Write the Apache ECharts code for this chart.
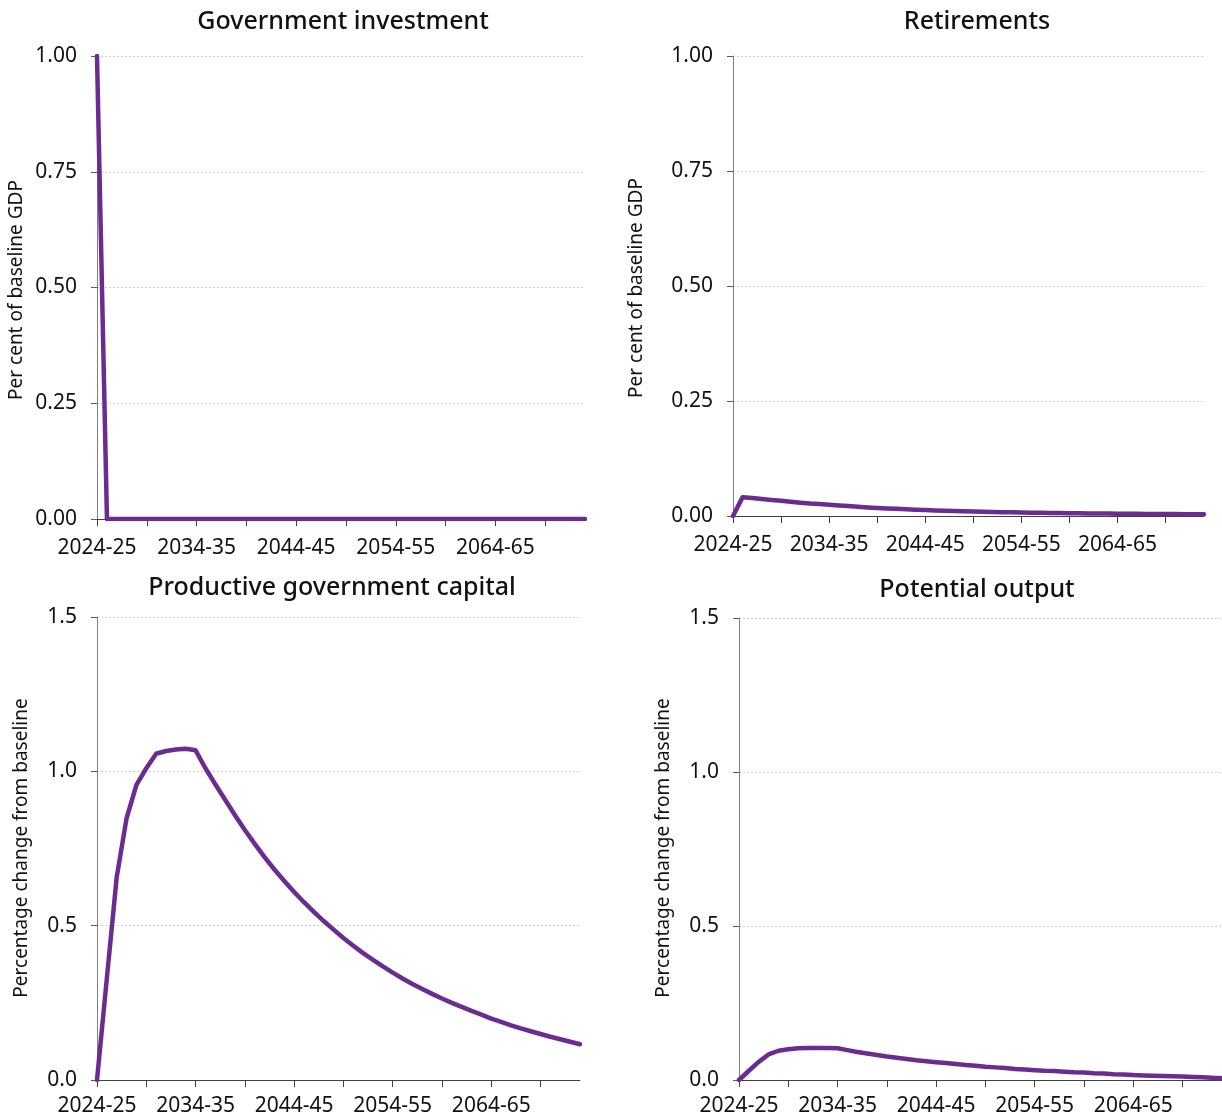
<!DOCTYPE html>
<html>
<head>
<meta charset="utf-8">
<script src="https://cdn.jsdelivr.net/npm/echarts@6/dist/echarts.min.js"></script>
<style>
html,body{margin:0;padding:0;background:#fff;}
#chart{width:1222px;height:1119px;}
</style>
</head>
<body>
<div id="chart"></div>
<script>
// Categories: fiscal years 2024-25 .. 2073-74
const years = [];
for (let y = 2024; y <= 2073; y++) years.push(y + '-' + String((y + 1) % 100).padStart(2, '0'));

const govInvestment = [1.00, 0, 0, 0, 0, 0, 0, 0, 0, 0, 0, 0, 0, 0, 0, 0, 0, 0, 0, 0, 0, 0, 0, 0, 0,
  0, 0, 0, 0, 0, 0, 0, 0, 0, 0, 0, 0, 0, 0, 0, 0, 0, 0, 0, 0, 0, 0, 0, 0, 0];

const retirements = [0, 0.041, 0.039, 0.037, 0.035, 0.033, 0.031, 0.029, 0.027, 0.026,
  0.0245, 0.023, 0.0215, 0.020, 0.0187, 0.0175, 0.0165, 0.0155, 0.0145, 0.0137,
  0.013, 0.0122, 0.0115, 0.0108, 0.0102, 0.0097, 0.0092, 0.0087, 0.0083, 0.0079,
  0.0075, 0.0072, 0.0069, 0.0066, 0.0063, 0.006, 0.0058, 0.0056, 0.0054, 0.0052,
  0.005, 0.0048, 0.0047, 0.0045, 0.0044, 0.0042, 0.0041, 0.004, 0.0039, 0.0037];

const govCapital = [0, 0.33, 0.657, 0.848, 0.956, 1.01, 1.057, 1.066, 1.071, 1.073,
  1.068, 1.010, 0.958, 0.908, 0.858, 0.810, 0.765, 0.722, 0.682, 0.645,
  0.609, 0.576, 0.545, 0.515, 0.487, 0.460, 0.435, 0.411, 0.389, 0.368,
  0.348, 0.329, 0.311, 0.295, 0.279, 0.264, 0.250, 0.237, 0.224, 0.212,
  0.199, 0.188, 0.177, 0.167, 0.158, 0.149, 0.140, 0.132, 0.124, 0.116];

const potentialOutput = [0, 0.030, 0.059, 0.083, 0.095, 0.100, 0.103, 0.104, 0.104, 0.104,
  0.103, 0.097, 0.091, 0.086, 0.081, 0.076, 0.072, 0.068, 0.064, 0.061,
  0.058, 0.055, 0.052, 0.049, 0.046, 0.043, 0.041, 0.039, 0.036, 0.034,
  0.032, 0.030, 0.029, 0.027, 0.025, 0.024, 0.022, 0.021, 0.019, 0.018,
  0.016, 0.015, 0.014, 0.013, 0.012, 0.011, 0.010, 0.009, 0.007, 0.006];

const titles = ['Government investment', 'Retirements', 'Productive government capital', 'Potential output'];
const yNames = ['Per cent of baseline GDP', 'Per cent of baseline GDP', 'Percentage change from baseline', 'Percentage change from baseline'];

const FONT = '"Noto Sans", sans-serif';
const PURPLE = '#6a2c91';
const AXIS = '#595959';

const grids = [
  {left: 97, top: 56, width: 488, height: 463},
  {left: 733, top: 56, width: 471, height: 460},
  {left: 97, top: 617, width: 483, height: 463},
  {left: 739, top: 618, width: 483, height: 462}
];
const yCfg = [
  {max: 1, interval: 0.25, dec: 2},
  {max: 1, interval: 0.25, dec: 2},
  {max: 1.5, interval: 0.5, dec: 1},
  {max: 1.5, interval: 0.5, dec: 1}
];
const seriesData = [govInvestment, retirements, govCapital, potentialOutput];
const titlePos = [[343, 22], [977, 22], [332, 588], [977, 590]];
const yNamePos = [[17, 290], [637, 288], [22, 848], [664, 848]];
const xLabelMargin = [19, 19, 16, 16];

const option = {
  animation: false,
  backgroundColor: '#fff',
  grid: grids.map(g => Object.assign({containLabel: false}, g)),
  xAxis: grids.map((g, i) => ({
    type: 'category', gridIndex: i, data: years, boundaryGap: false,
    axisLine: {show: true, lineStyle: {color: '#404040', width: 1}},
    axisTick: {show: true, interval: 4, length: 7, lineStyle: {color: '#404040'}},
    axisLabel: {interval: 9, color: '#111', fontFamily: FONT, fontSize: 21, margin: xLabelMargin[i]},
    splitLine: {show: false}
  })),
  yAxis: grids.map((g, i) => ({
    type: 'value', gridIndex: i, min: 0, max: yCfg[i].max, interval: yCfg[i].interval,
    axisLine: {show: true, lineStyle: {color: '#7f7f7f', width: 1}},
    axisTick: {show: true, length: 6, lineStyle: {color: AXIS}},
    axisLabel: {color: '#111', fontFamily: FONT, fontSize: 21, margin: 20,
      formatter: v => v.toFixed(yCfg[i].dec)},
    splitLine: {show: true, lineStyle: {color: '#d0d0d0', type: [2, 2], width: 1}}
  })),
  series: seriesData.map((d, i) => ({
    type: 'line', xAxisIndex: i, yAxisIndex: i, data: d, showSymbol: false,
    lineStyle: {color: PURPLE, width: 4.5, join: 'round', cap: 'round'}, itemStyle: {color: PURPLE}
  })),
  graphic: titles.map((t, i) => ({
    type: 'text', x: titlePos[i][0], y: titlePos[i][1],
    style: {text: t, fill: '#111', font: '500 25px ' + FONT, align: 'center', verticalAlign: 'middle'}
  })).concat(yNames.map((t, i) => ({
    type: 'text', x: yNamePos[i][0], y: yNamePos[i][1], rotation: Math.PI / 2,
    style: {text: t, fill: '#111', font: '19px ' + FONT, align: 'center', verticalAlign: 'middle'}
  })))
};

const chart = echarts.init(document.getElementById('chart'), null, {renderer: 'canvas'});
chart.setOption(option);
</script>
</body>
</html>
